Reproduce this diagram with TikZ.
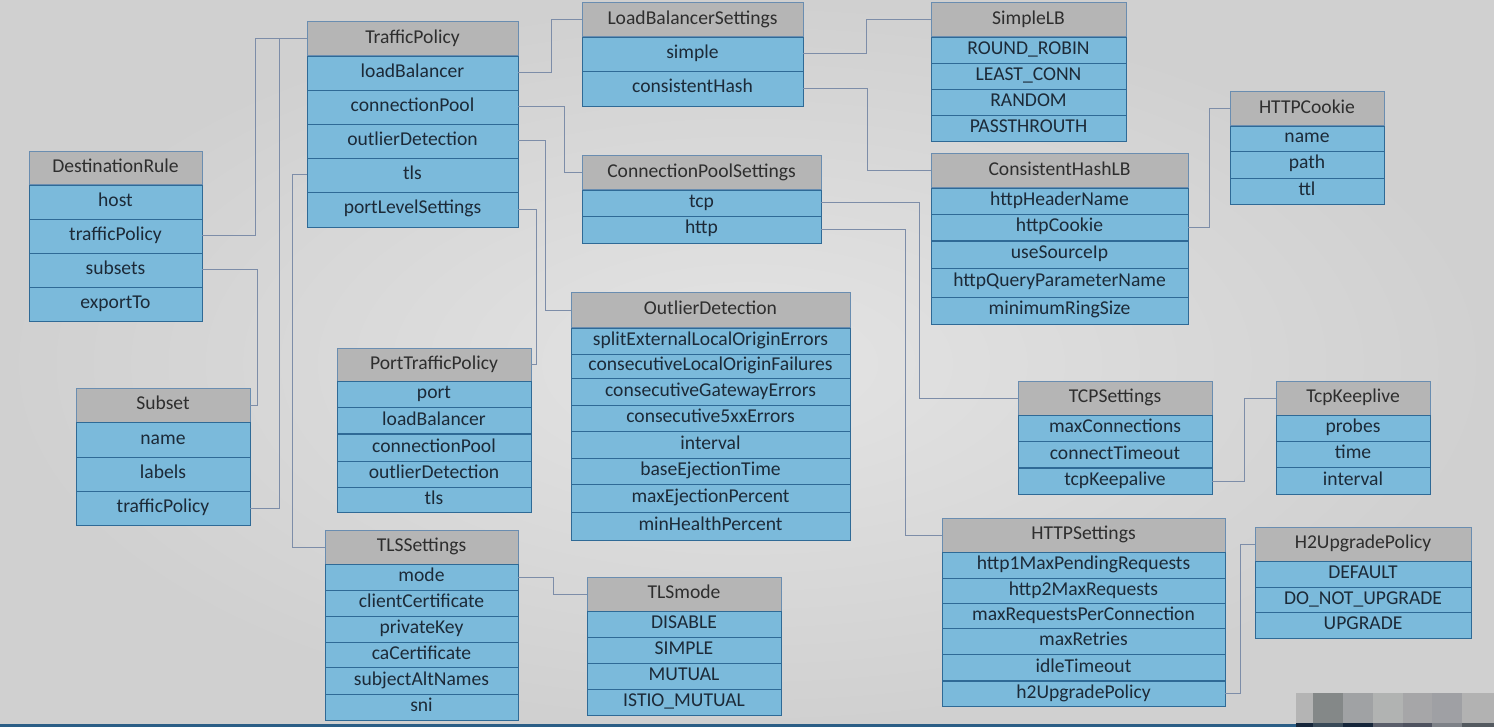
\documentclass[tikz,border=0pt]{standalone}
\usepackage{fontspec}
\setmainfont{Carlito}
\usetikzlibrary{calc}
\definecolor{bgin}{HTML}{E4E4E4}
\definecolor{bgout}{HTML}{D0D0D0}
\definecolor{hdrgray}{HTML}{B5B5B5}
\definecolor{hdrline}{HTML}{6A8DB0}
\definecolor{rowblue}{HTML}{7BBADB}
\definecolor{rowline}{HTML}{2F6A96}
\definecolor{txt}{HTML}{1C2A38}
\definecolor{hdrtxt}{HTML}{2E2E2E}
\definecolor{connc}{HTML}{7D8DA8}
\definecolor{bline}{HTML}{2B5E86}
\newcommand{\umlbox}[7]{%
  \pgfmathsetmacro\hh{#5-#4}%
  \node[hdr, minimum width=#3pt, minimum height=\hh pt] (#1) at (#2,#4) {#6};%
  \foreach \ya/\yb/\lab [count=\i] in {#7} {%
    \pgfmathsetmacro\rh{\yb-\ya}%
    \node[rowc, minimum width=#3pt, minimum height=\rh pt] (#1-\i) at (#2,\ya) {\lab};%
  }%
}
\begin{document}
\begin{tikzpicture}[x=1pt,y=-1pt,
  cellbase/.style={anchor=north west, inner sep=0pt, outer sep=0pt,
    font=\fontsize{19.6}{22}\selectfont, text height=13pt, text depth=4pt},
  hdr/.style={cellbase, fill=hdrgray, draw=hdrline, line width=1pt, text=hdrtxt},
  rowc/.style={cellbase, fill=rowblue, draw=rowline, line width=0.9pt, text=txt},
  conn/.style={draw=connc, line width=1pt},
  thickdiv/.style={draw=rowline, line width=2pt}]
\useasboundingbox (0,0) rectangle (1494,727);
\shade[inner color=bgin, outer color=bgout] (0,0) rectangle (1494,727);
\fill[bline] (0,723.5) rectangle (1494,727);

% boxes
\umlbox{dr}{29}{173}{152}{185}{DestinationRule}{185/219/host, 219/253/trafficPolicy, 253/287/subsets, 287/321/exportTo}
\umlbox{sb}{76}{174}{388}{422}{Subset}{422/457/name, 457/491/labels, 491/525/trafficPolicy}
\umlbox{tp}{307}{211}{22}{56}{TrafficPolicy}{56/90/loadBalancer, 90/124/connectionPool, 124/158/outlierDetection, 158/192/tls, 192/227/portLevelSettings}
\umlbox{lbs}{582}{221}{3}{37}{LoadBalancerSettings}{37/71/simple, 71/106/consistentHash}
\umlbox{slb}{931}{195}{3}{37}{SimpleLB}{37/63/ROUND\_ROBIN, 63/89/LEAST\_CONN, 89/115/RANDOM, 115/141/PASSTHROUTH}
\umlbox{cps}{582}{239}{156}{190}{ConnectionPoolSettings}{190/216/tcp, 216/243/http}
\umlbox{chlb}{931}{257}{154}{188}{ConsistentHashLB}{188/214/httpHeaderName, 214/241/httpCookie, 241/268/useSourceIp, 268/297/httpQueryParameterName, 297/324/minimumRingSize}
\umlbox{hc}{1230}{154}{92}{126}{HTTPCookie}{126/151/name, 151/178/path, 178/204/ttl}
\umlbox{od}{571}{279}{293}{328}{OutlierDetection}{328/354/splitExternalLocalOriginErrors, 354/378/consecutiveLocalOriginFailures, 378/405/consecutiveGatewayErrors, 405/431/consecutive5xxErrors, 431/458/interval, 458/484/baseEjectionTime, 484/512/maxEjectionPercent, 512/540/minHealthPercent}
\umlbox{ptp}{337}{194}{348}{381}{PortTrafficPolicy}{381/407/port, 407/434/loadBalancer, 434/461/connectionPool, 461/487/outlierDetection, 487/512/tls}
\umlbox{tlss}{325}{193}{530}{564}{TLSSettings}{564/590/mode, 590/616/clientCertificate, 616/642/privateKey, 642/667/caCertificate, 667/694/subjectAltNames, 694/720/sni}
\umlbox{tm}{587}{194}{577}{611}{TLSmode}{611/637/DISABLE, 637/663/SIMPLE, 663/689/MUTUAL, 689/715/ISTIO\_MUTUAL}
\umlbox{tcps}{1018}{194}{381}{415}{TCPSettings}{415/441/maxConnections, 441/468/connectTimeout, 468/494/tcpKeepalive}
\umlbox{tk}{1276}{154}{381}{415}{TcpKeeplive}{415/441/probes, 441/467/time, 467/494/interval}
\umlbox{hs}{942}{283}{518}{552}{HTTPSettings}{552/578/http1MaxPendingRequests, 578/603/http2MaxRequests, 603/628/maxRequestsPerConnection, 628/654/maxRetries, 654/681/idleTimeout, 681/706/h2UpgradePolicy}
\umlbox{h2}{1255}{216}{527}{561}{H2UpgradePolicy}{561/587/DEFAULT, 587/612/DO\_NOT\_UPGRADE, 612/638/UPGRADE}

% thicker dividers
\draw[thickdiv] (chlb-3.north west) -- (chlb-3.north east);
\draw[thickdiv] (tcps-3.north west) -- (tcps-3.north east);
\draw[thickdiv] (hs-6.north west) -- (hs-6.north east);
\draw[thickdiv] (ptp-3.north west) -- (ptp-3.north east);

% connectors
\draw[conn] (dr-2.east) -- ++(53,0) |- (tp.west);
\draw[conn] (dr-3.east) -- ++(55,0) |- (sb.east);
\draw[conn] (sb-3.east) -- ++(29,0) |- (tp.west);
\draw[conn] (tp-4.west) -- ++(-15,0) |- (tlss.west);
\draw[conn] (tp-1.east) -- ++(33,0) |- (lbs.west);
\draw[conn] (tp-2.east) -- ++(46,0) |- (cps.west);
\draw[conn] (tp-3.east) -- ++(27,0) |- (od.west);
\draw[conn] (tp-5.east) -- ++(18,0) |- (ptp.east);
\draw[conn] (lbs-1.east) -- ++(63,0) |- (slb.west);
\draw[conn] (lbs-2.east) -- ++(64,0) |- (chlb.west);
\draw[conn] (cps-1.east) -- ++(98,0) |- (tcps.west);
\draw[conn] (cps-2.east) -- ++(84,0) |- (hs.west);
\draw[conn] (chlb-2.east) -- ++(21,0) |- (hc.west);
\draw[conn] (tcps-3.east) -- ++(32,0) |- (tk.west);
\draw[conn] (hs-6.east) -- ++(15,0) |- (h2.west);
\draw[conn] (tlss-1.east) -- ++(35,0) |- (tm.west);

% pixelated blocks at bottom right
\fill[fill={rgb,255:red,180;green,180;blue,180}] (1296,693) rectangle (1313,723);
\fill[fill={rgb,255:red,132;green,136;blue,136}] (1313,693) rectangle (1343,723);
\fill[fill={rgb,255:red,160;green,162;blue,164}] (1343,693) rectangle (1373,723);
\fill[fill={rgb,255:red,177;green,179;blue,178}] (1373,693) rectangle (1403,723);
\fill[fill={rgb,255:red,166;green,166;blue,168}] (1403,693) rectangle (1432,723);
\fill[fill={rgb,255:red,159;green,160;blue,164}] (1432,693) rectangle (1462,723);
\fill[fill={rgb,255:red,178;green,178;blue,178}] (1462,693) rectangle (1494,723);
\fill[fill={rgb,255:red,22;green,38;blue,58}] (1296,723) rectangle (1313,727);
\fill[fill={rgb,255:red,57;green,74;blue,88}] (1313,723) rectangle (1343,727);
\fill[fill={rgb,255:red,22;green,38;blue,58}] (1343,723) rectangle (1373,727);
\fill[fill={rgb,255:red,90;green,94;blue,106}] (1373,723) rectangle (1403,727);
\fill[fill={rgb,255:red,79;green,83;blue,96}] (1403,723) rectangle (1432,727);
\fill[fill={rgb,255:red,126;green,130;blue,136}] (1432,723) rectangle (1462,727);
\fill[fill={rgb,255:red,84;green,90;blue,96}] (1462,723) rectangle (1494,727);
\end{tikzpicture}
\end{document}
